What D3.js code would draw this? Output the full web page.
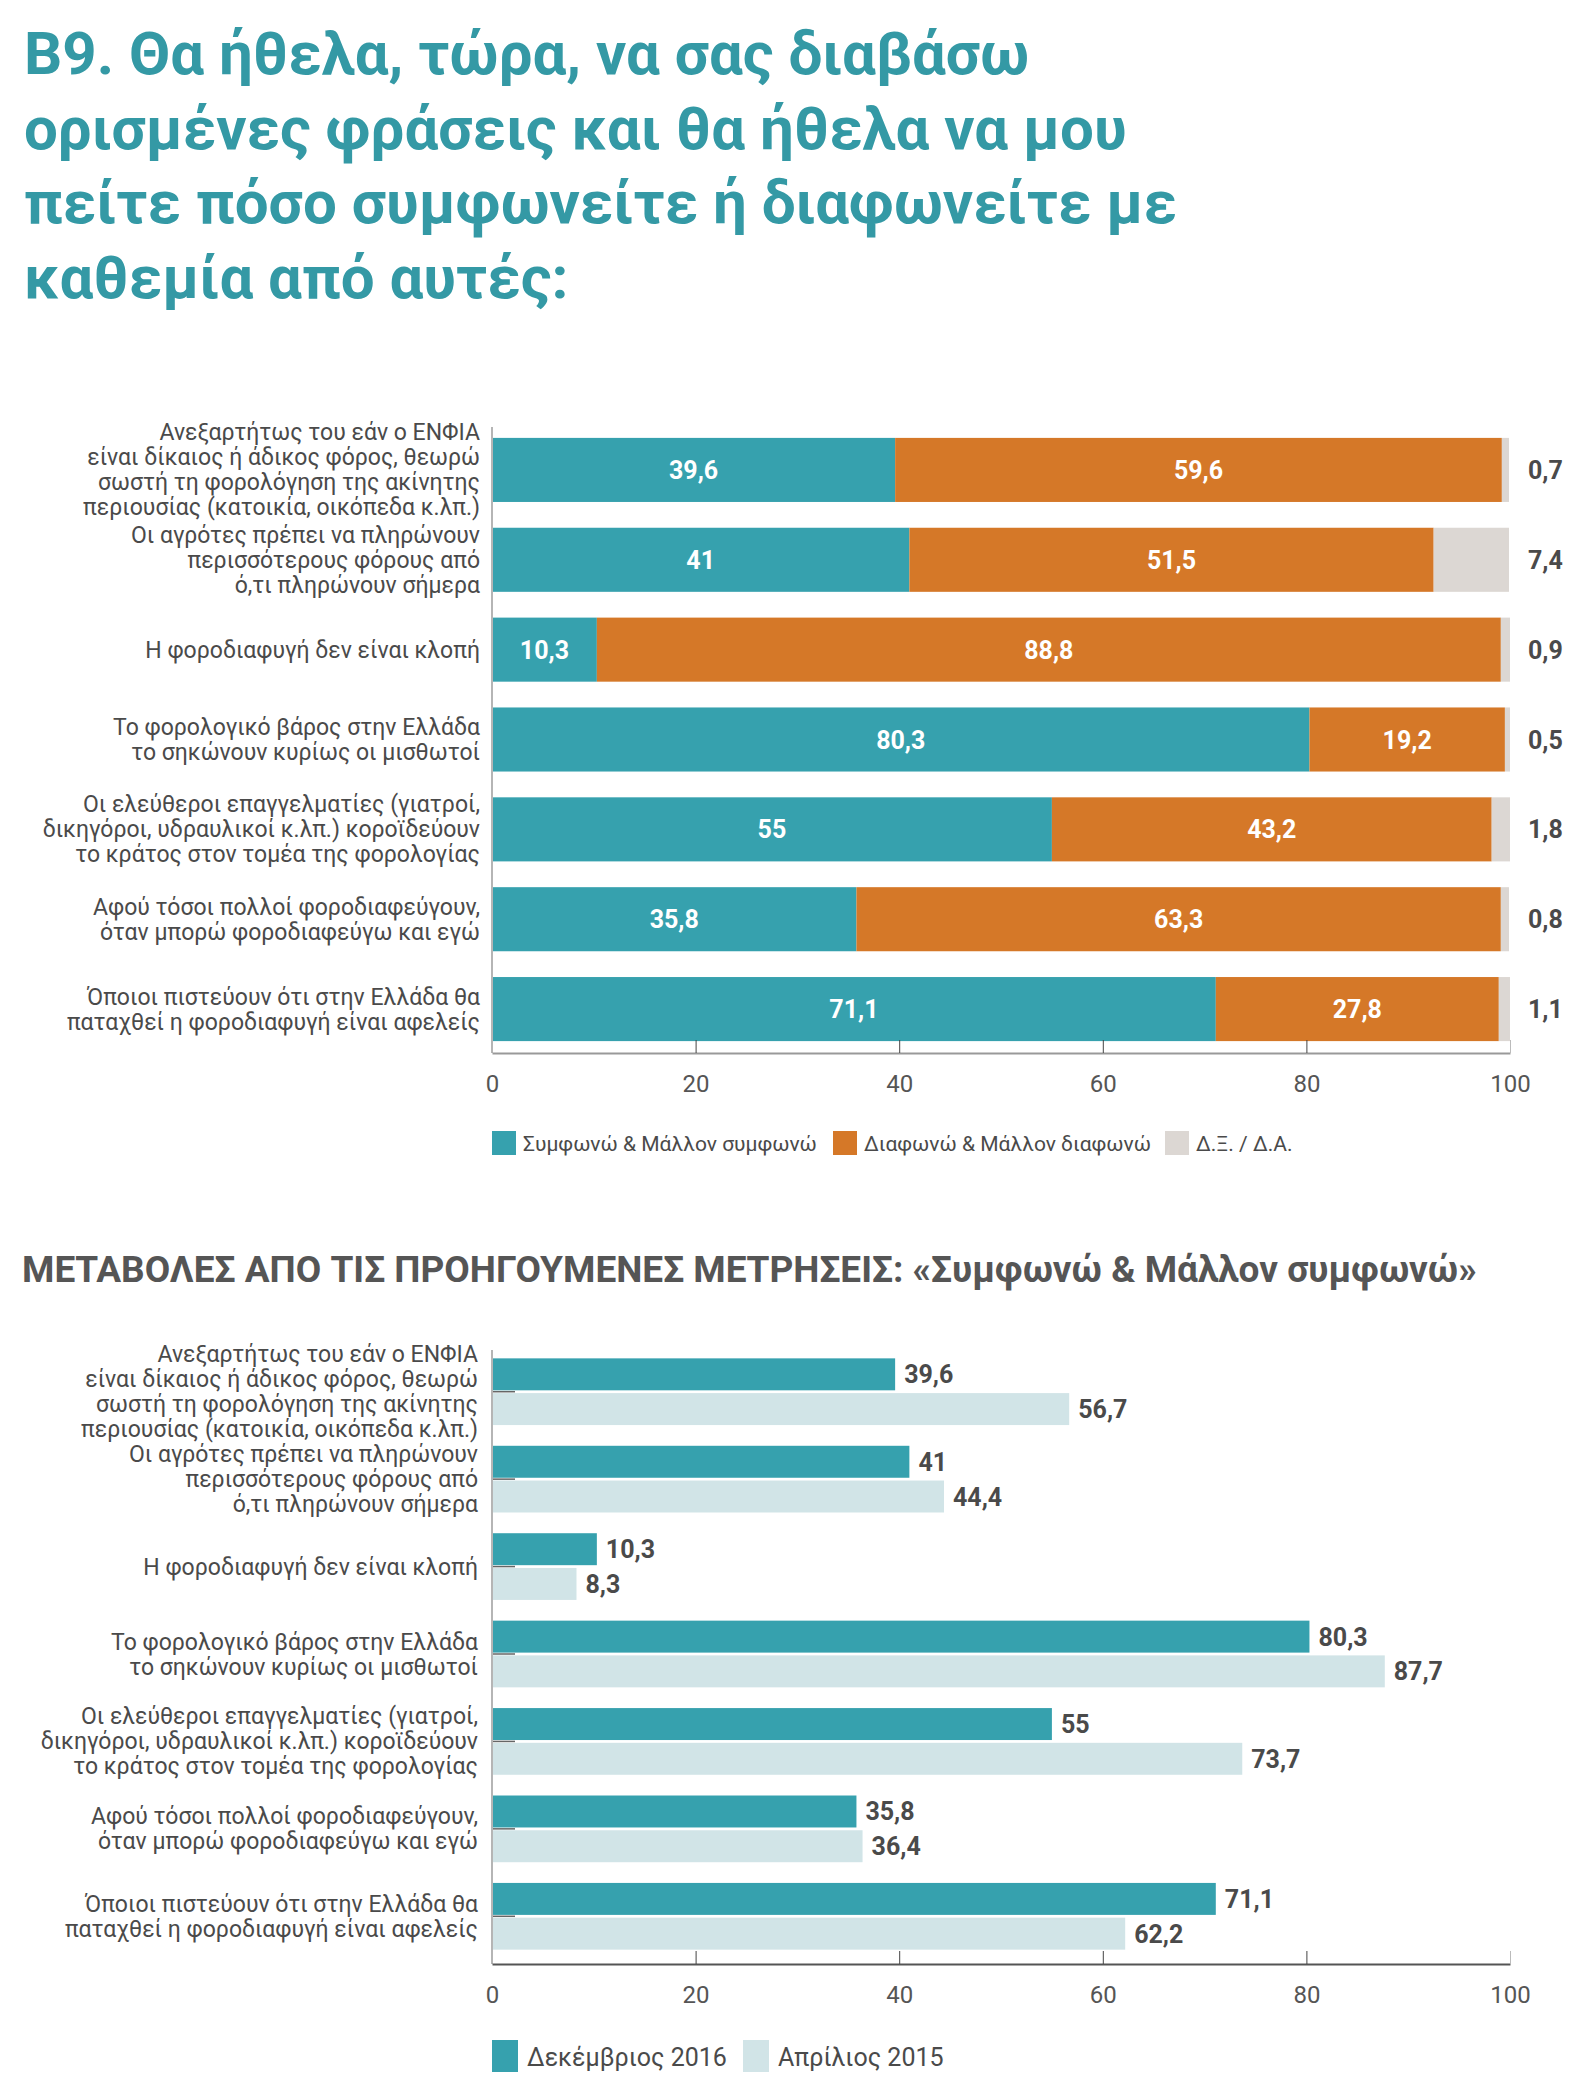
<!DOCTYPE html>
<html>
<meta charset="utf-8">
<title>B9</title>
<style>
body { margin: 0; background: #fff; }
text { font-family: Roboto, "Noto Sans", sans-serif; }
.title { font-weight: 700; fill: #3499a5; }
.lbl { fill: #4a4a4a; font-size: 23px; }
.val { font-weight: 700; font-size: 25px; }
.axis text { font-size: 24px; fill: #555; font-family: Roboto, sans-serif; }
</style>
<body>
<div id="chart"></div>
<script src="https://cdn.jsdelivr.net/npm/d3@7"></script>
<script>
var categories = [
  "Ανεξαρτήτως του εάν ο ΕΝΦΙΑ\nείναι δίκαιος ή άδικος φόρος, θεωρώ\nσωστή τη φορολόγηση της ακίνητης\nπεριουσίας (κατοικία, οικόπεδα κ.λπ.)",
  "Οι αγρότες πρέπει να πληρώνουν\nπερισσότερους φόρους από\nό,τι πληρώνουν σήμερα",
  "Η φοροδιαφυγή δεν είναι κλοπή",
  "Το φορολογικό βάρος στην Ελλάδα\nτο σηκώνουν κυρίως οι μισθωτοί",
  "Οι ελεύθεροι επαγγελματίες (γιατροί,\nδικηγόροι, υδραυλικοί κ.λπ.) κοροϊδεύουν\nτο κράτος στον τομέα της φορολογίας",
  "Αφού τόσοι πολλοί φοροδιαφεύγουν,\nόταν μπορώ φοροδιαφεύγω και εγώ",
  "Όποιοι πιστεύουν ότι στην Ελλάδα θα\nπαταχθεί η φοροδιαφυγή είναι αφελείς"
];
var agree    = [39.6, 41, 10.3, 80.3, 55, 35.8, 71.1];
var disagree = [59.6, 51.5, 88.8, 19.2, 43.2, 63.3, 27.8];
var dkna     = [0.7, 7.4, 0.9, 0.5, 1.8, 0.8, 1.1];
var dec2016  = [39.6, 41, 10.3, 80.3, 55, 35.8, 71.1];
var apr2015  = [56.7, 44.4, 8.3, 87.7, 73.7, 36.4, 62.2];
var stackKeys = ["Συμφωνώ & Μάλλον συμφωνώ", "Διαφωνώ & Μάλλον διαφωνώ", "Δ.Ξ. / Δ.Α."];
var periodKeys = ["Δεκέμβριος 2016", "Απρίλιος 2015"];
var ticks = [0, 20, 40, 60, 80, 100];
var titleLines = ["Β9. Θα ήθελα, τώρα, να σας διαβάσω", "ορισμένες φράσεις και θα ήθελα να μου",
  "πείτε πόσο συμφωνείτε ή διαφωνείτε με", "καθεμία από αυτές:"];
var subtitle = "ΜΕΤΑΒΟΛΕΣ ΑΠΟ ΤΙΣ ΠΡΟΗΓΟΥΜΕΝΕΣ ΜΕΤΡΗΣΕΙΣ: «Συμφωνώ & Μάλλον συμφωνώ»";

var teal = "#36a1ae", orange = "#d57828", grey = "#dcd7d3", light = "#d1e4e7", dark = "#4a4a4a";
var fmt = function(v){ return String(v).replace(".", ","); };

var svg = d3.select("#chart").append("svg").attr("width", 1588).attr("height", 2090);

svg.selectAll(".title").data(titleLines).enter().append("text")
  .attr("class", "title")
  .attr("x", 24)
  .attr("y", function(d, i){ return 74 + i * 74.5; })
  .style("font-size", "60px")
  .text(function(d){ return d; });

var x = d3.scaleLinear().domain([0, 100]).range([492, 1510]);

function labels(g, y, lx){
  categories.forEach(function(c, i){
    var lines = c.split("\n");
    var cy = y(i) + y.bandwidth() / 2;
    var t = g.append("text").attr("class", "lbl").attr("text-anchor", "end");
    lines.forEach(function(l, j){
      t.append("tspan").attr("x", lx)
        .attr("y", cy + (j - (lines.length - 1) / 2) * 25)
        .attr("dy", "0.35em").text(l);
    });
  });
}

function axis(g, axisY, top){
  g.append("line").attr("x1", x(0)).attr("x2", x(0)).attr("y1", top).attr("y2", axisY)
    .attr("stroke", "#b5b5b5").attr("stroke-width", 2);
  var a = g.append("g").attr("class", "axis").attr("transform", "translate(0," + axisY + ")")
    .call(d3.axisBottom(x).tickValues(ticks).tickSize(-13).tickSizeOuter(0).tickPadding(22));
  a.select(".domain").attr("stroke", "#999").attr("stroke-width", 2);
  a.selectAll(".tick line").attr("stroke", function(d){ return d === 100 ? "#bbb" : "#444"; });
  a.selectAll(".tick").filter(function(d){ return d === 0; }).select("line").remove();
}

// chart 1: stacked bars
var g1 = svg.append("g");
var y1 = d3.scaleBand().domain(d3.range(categories.length)).range([425, 1054])
  .paddingInner(0.287).paddingOuter(0.1435);
var rows = categories.map(function(c, i){ return {i: i, a: agree[i], d: disagree[i], n: dkna[i]}; });
var stack = d3.stack().keys(["a", "d", "n"])(rows);
var colors = [teal, orange, grey];
stack.forEach(function(layer, k){
  g1.selectAll(".s" + k).data(layer).enter().append("rect")
    .attr("x", function(d){ return x(d[0]); })
    .attr("width", function(d){ return x(d[1]) - x(d[0]); })
    .attr("y", function(d){ return y1(d.data.i); })
    .attr("height", y1.bandwidth())
    .attr("fill", colors[k]);
  if (k < 2) {
    g1.selectAll(".v" + k).data(layer).enter().append("text")
      .attr("class", "val").attr("fill", "#fff").attr("text-anchor", "middle")
      .attr("x", function(d){ return (x(d[0]) + x(d[1])) / 2; })
      .attr("y", function(d){ return y1(d.data.i) + y1.bandwidth() / 2; })
      .attr("dy", "0.36em")
      .text(function(d){ return fmt(k === 0 ? d.data.a : d.data.d); });
  }
});
g1.selectAll(".dk").data(rows).enter().append("text")
  .attr("class", "val").attr("fill", dark)
  .attr("x", 1528)
  .attr("y", function(d){ return y1(d.i) + y1.bandwidth() / 2; })
  .attr("dy", "0.36em")
  .text(function(d){ return fmt(d.n); });
labels(g1, y1, 480);
axis(g1, 1053, 427);

var leg1x = [492, 833, 1165];
stackKeys.forEach(function(k, i){
  g1.append("rect").attr("x", leg1x[i]).attr("y", 1131).attr("width", 24).attr("height", 24).attr("fill", colors[i]);
  g1.append("text").attr("x", leg1x[i] + 31).attr("y", 1151).attr("fill", dark)
    .style("font-size", "21px").text(k);
});

svg.append("text").attr("x", 22).attr("y", 1282)
  .attr("fill", "#555").style("font-weight", 700).style("font-size", "37px")
  .text(subtitle);

// chart 2: grouped bars
var g2 = svg.append("g");
var y2 = d3.scaleBand().domain(d3.range(categories.length)).range([1348, 1960])
  .paddingInner(0.237).paddingOuter(0.1185);
var y2in = d3.scaleBand().domain([0, 1]).range([0, y2.bandwidth()]).paddingInner(0.08);
var series = [dec2016, apr2015];
var scol = [teal, light];
series.forEach(function(s, k){
  g2.selectAll(".b" + k).data(s).enter().append("rect")
    .attr("x", x(0))
    .attr("y", function(d, i){ return y2(i) + y2in(k); })
    .attr("width", function(d){ return x(d) - x(0); })
    .attr("height", y2in.bandwidth())
    .attr("fill", scol[k]);
  g2.selectAll(".t" + k).data(s).enter().append("text")
    .attr("class", "val").attr("fill", dark)
    .attr("x", function(d){ return x(d) + 9; })
    .attr("y", function(d, i){ return y2(i) + y2in(k) + y2in.bandwidth() / 2; })
    .attr("dy", "0.36em")
    .text(fmt);
});
g2.selectAll(".mid").data(categories).enter().append("line")
  .attr("x1", x(0)).attr("x2", x(0) + 23)
  .attr("y1", function(d, i){ return y2(i) + y2.bandwidth() / 2; })
  .attr("y2", function(d, i){ return y2(i) + y2.bandwidth() / 2; })
  .attr("stroke", "#666").attr("stroke-width", 1.5);
labels(g2, y2, 478);
axis(g2, 1964, 1350);
g2.select(".axis .domain").attr("stroke", "#555");

var leg2x = [492, 743];
periodKeys.forEach(function(k, i){
  g2.append("rect").attr("x", leg2x[i]).attr("y", 2040).attr("width", 26).attr("height", 32).attr("fill", scol[i]);
  g2.append("text").attr("x", leg2x[i] + 35).attr("y", 2066).attr("fill", dark)
    .style("font-size", "25px").text(k);
});
</script>
</body>
</html>
